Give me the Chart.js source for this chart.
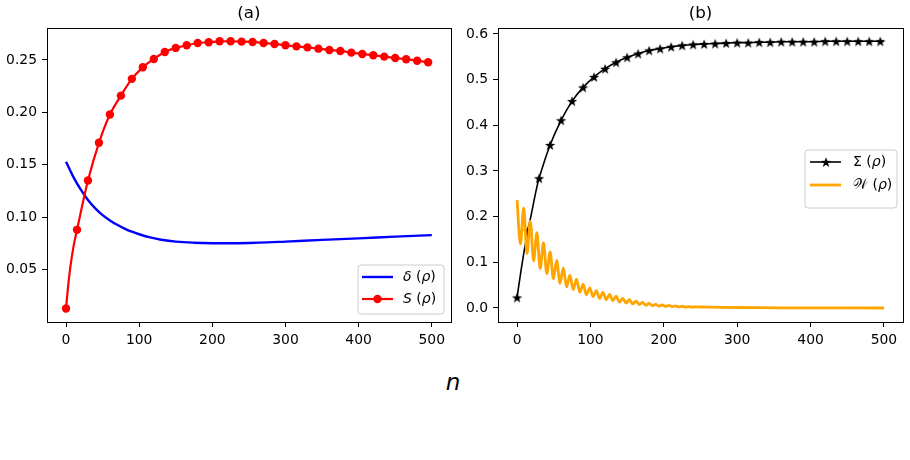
<!DOCTYPE html>
<html><head><meta charset="utf-8">
<script src="https://cdn.jsdelivr.net/npm/chart.js@4.4.1/dist/chart.umd.min.js"></script>
<style>
html,body{margin:0;padding:0;background:#fff;}
#wrap{position:relative;width:910px;height:460px;overflow:hidden;background:#fff;}
canvas{position:absolute;top:0;}
#cA{left:0;} #cB{left:455px;}
#xlab{position:absolute;left:0;width:906px;top:371px;text-align:center;font:italic 23px "DejaVu Sans";line-height:23px;color:#000;}
</style></head><body>
<div id="wrap">
<canvas id="cA" width="455" height="345" style="width:455px;height:345px"></canvas>
<canvas id="cB" width="455" height="345" style="width:455px;height:345px"></canvas>
<div id="xlab">n</div>
</div>
<script>
// ---------- data ----------
const xTicks = [0, 100, 200, 300, 400, 500];
const yTicksA = [0.05, 0.10, 0.15, 0.20, 0.25];
const yTicksB = [0.0, 0.1, 0.2, 0.3, 0.4, 0.5, 0.6];

// delta(rho)
const deltaN = [0,10,20,30,40,50,60,70,80,90,100,115,130,150,175,200,225,250,275,300,350,400,450,500];
const deltaV = [.153,.1385,.1265,.1165,.1085,.102,.097,.0928,.0892,.0862,.0838,.0808,.0786,.0768,.0757,.0752,.0752,.0755,.076,.0768,.0784,.0799,.0815,.083];

// S(rho)
const sN = [0,3,6,10,15,30,45,60,75,90,105,120,135,150,165,180,195,210,225,240,255,270,285,300,315,330,345,360,375,390,405,420,435,450,465,480,495,500];
const sV = [.013,.035,.053,.071,.088,.135,.171,.198,.216,.232,.243,.251,.2576,.2615,.264,.2662,.2669,.2678,.2678,.2675,.2672,.2662,.2653,.264,.263,.262,.2608,.2595,.2586,.257,.2557,.2545,.2532,.2519,.2507,.2493,.2478,.2475];

// Sigma(rho)
const sigN = [0,5,10,15,20,25,30,45,60,75,90,105,120,135,150,165,180,195,210,225,240,255,270,285,300,315,330,345,360,375,390,405,420,435,450,465,480,495,500];
const sigV = [.023,.078,.128,.170,.210,.250,.284,.357,.411,.453,.483,.506,.524,.538,.549,.557,.564,.568,.572,.575,.577,.578,.579,.580,.581,.581,.582,.582,.583,.583,.583,.583,.584,.584,.584,.584,.584,.584,.584];

// W(rho) (oscillating, peaks and troughs)
const wN = [0,4.5,9,13.5,18,22.5,27,31.5,36,40.5,
            45,49.5,54,58.5,63,67.5,72,76.5,81,85.5,
            90,94.5,99,103.5,108,112.5,117,121.5,126,130.5,
            135,139.5,144,148.5,153,157.5,162,166.5,171,175.5,
            180,184.5,189,193.5,198,202.5,207,211.5,216,220.5,
            225,229.5,234,238.5,243,
            260,280,300,330,360,400,450,500];
const wV = [.236,.140,.219,.119,.190,.103,.165,.086,.143,.075,
            .123,.064,.104,.054,.088,.046,.072,.040,.063,.034,
            .052,.029,.044,.025,.038,.021,.034,.018,.030,.016,
            .026,.013,.021,.011,.018,.009,.015,.0075,.012,.006,
            .010,.005,.008,.004,.0065,.0035,.0055,.003,.0045,.0025,
            .0038,.002,.003,.0018,.0025,
            .0019,.0014,.001,.0006,.0004,.0002,.0001,0];

const markStep = 15;
// ---------------------------------------------------

const pts = (xs, ys) => xs.map((x, i) => ({x: x, y: ys[i]}));
const isMark = c => c.raw && (c.raw.x % markStep === 0) && c.raw.x <= 495;

const starImg = (() => {
  const c = document.createElement('canvas'); const s = 12; c.width = s; c.height = s;
  const g = c.getContext('2d'); g.beginPath();
  for (let i = 0; i < 10; i++) {
    const r = i % 2 ? 2.2 : 5.4; const a = -Math.PI / 2 + i * Math.PI / 5;
    g.lineTo(s / 2 + r * Math.cos(a), s / 2 + 0.6 + r * Math.sin(a));
  }
  g.closePath(); g.fillStyle = '#000'; g.fill(); return c;
})();

Chart.defaults.font.family = '"DejaVu Sans"';
Chart.defaults.color = '#000';

function drawSegs(ctx, x, y, segs) {
  for (const [t, st] of segs) {
    ctx.font = (st ? st + ' ' : '') + '14px "DejaVu Sans"';
    ctx.fillText(t, x, y);
    x += ctx.measureText(t).width;
  }
}

const deco = {
  id: 'deco',
  afterDraw(chart, args, o) {
    const ctx = chart.ctx, a = chart.chartArea;
    ctx.save();
    // frame
    ctx.strokeStyle = '#000'; ctx.lineWidth = 1;
    ctx.strokeRect(Math.round(a.left) + 0.5, Math.round(a.top) + 0.5, Math.round(a.right - a.left), Math.round(a.bottom - a.top));
    // title
    ctx.fillStyle = '#000'; ctx.font = '16.7px "DejaVu Sans"';
    ctx.textAlign = 'center'; ctx.textBaseline = 'middle';
    ctx.fillText(o.title, (a.left + a.right) / 2, 14);
    // legend
    const L = o.legend;
    ctx.beginPath();
    if (ctx.roundRect) ctx.roundRect(L.x0, L.y0, L.x1 - L.x0, L.y1 - L.y0, 3); else ctx.rect(L.x0, L.y0, L.x1 - L.x0, L.y1 - L.y0);
    ctx.fillStyle = 'rgba(255,255,255,0.8)'; ctx.fill();
    ctx.strokeStyle = '#cccccc'; ctx.lineWidth = 1; ctx.stroke();
    ctx.textAlign = 'left'; ctx.textBaseline = 'middle';
    for (const e of L.entries) {
      const ds = chart.data.datasets[e.ds];
      ctx.beginPath(); ctx.moveTo(L.lx0, e.y); ctx.lineTo(L.lx1, e.y);
      ctx.strokeStyle = ds.borderColor; ctx.lineWidth = ds.borderWidth; ctx.stroke();
      const cx = (L.lx0 + L.lx1) / 2;
      if (e.marker === 'circle') {
        ctx.beginPath(); ctx.arc(cx, e.y, 4.2, 0, Math.PI * 2); ctx.fillStyle = ds.borderColor; ctx.fill();
      } else if (e.marker === 'star') {
        ctx.drawImage(starImg, Math.round(cx - starImg.width / 2), Math.round(e.y - starImg.height / 2));
      }
      ctx.fillStyle = '#000';
      drawSegs(ctx, L.tx, e.y, e.text);
    }
    ctx.restore();
  }
};

function makeOptions(yMin, yMax, yTicks, dec, yW, padR, title, legend) {
  return {
    responsive: false, animation: false, events: [],
    layout: {padding: {left: 0, right: padR, top: 28, bottom: 0}},
    plugins: {legend: {display: false}, tooltip: {enabled: false}, deco: {title: title, legend: legend}},
    scales: {
      x: {
        type: 'linear', min: -26, max: 526,
        afterBuildTicks: s => { s.ticks = xTicks.map(v => ({value: v})); },
        afterFit: s => { s.height = 23; },
        grid: {display: true, drawOnChartArea: false, drawTicks: true, tickLength: 5, tickColor: '#000', tickWidth: 1},
        border: {display: false},
        ticks: {color: '#000', font: {size: 13.9}, padding: 5, maxRotation: 0, autoSkip: false, callback: v => String(v)}
      },
      y: {
        type: 'linear', min: yMin, max: yMax,
        afterBuildTicks: s => { s.ticks = yTicks.map(v => ({value: v})); },
        afterFit: s => { s.width = yW; },
        grid: {display: true, drawOnChartArea: false, drawTicks: true, tickLength: 5, tickColor: '#000', tickWidth: 1},
        border: {display: false},
        ticks: {color: '#000', font: {size: 13.9}, padding: 5, autoSkip: false, callback: v => Number(v).toFixed(dec)}
      }
    }
  };
}

new Chart(document.getElementById('cA'), {
  type: 'line',
  data: {datasets: [
    {label: 'δ (ρ)', data: pts(deltaN, deltaV), borderColor: '#0000ff', borderWidth: 2.4, pointRadius: 0,
     tension: 0.4, fill: false, order: 1},
    {label: 'S (ρ)', data: pts(sN, sV), borderColor: '#ff0000', backgroundColor: '#ff0000', borderWidth: 2.2,
     pointStyle: 'circle', pointRadius: c => isMark(c) ? 4.2 : 0, pointBorderWidth: 0,
     pointBackgroundColor: '#ff0000', tension: 0.3, fill: false, order: 0}
  ]},
  options: makeOptions(0.0001, 0.2805, yTicksA, 2, 47, 4, '(a)', {
    x0: 358, y0: 265, x1: 444, y1: 314, lx0: 362, lx1: 393, tx: 403,
    entries: [
      {ds: 0, y: 277, marker: null, text: [['δ', 'italic'], [' (', ''], ['ρ', 'italic'], [')', '']]},
      {ds: 1, y: 299, marker: 'circle', text: [['S', 'italic'], [' (', ''], ['ρ', 'italic'], [')', '']]}
    ]
  }),
  plugins: [deco]
});

new Chart(document.getElementById('cB'), {
  type: 'line',
  data: {datasets: [
    {label: 'Σ (ρ)', data: pts(sigN, sigV), borderColor: '#000000', borderWidth: 1.6,
     pointStyle: starImg, pointRadius: c => isMark(c) ? 4 : 0,
     tension: 0.3, fill: false, order: 1},
    {label: 'W (ρ)', data: pts(wN, wV), borderColor: '#ffa500', borderWidth: 2.8, pointRadius: 0,
     cubicInterpolationMode: 'monotone', fill: false, order: 0}
  ]},
  options: makeOptions(-0.0307, 0.6131, yTicksB, 1, 43, 7, '(b)', {
    x0: 350, y0: 150, x1: 442, y1: 208, lx0: 355, lx1: 386, tx: 398,
    entries: [
      {ds: 0, y: 162, marker: 'star', text: [['Σ', ''], [' (', ''], ['ρ', 'italic'], [')', '']]},
      {ds: 1, y: 185, marker: null, text: [['𝒲', ''], [' (', ''], ['ρ', 'italic'], [')', '']]}
    ]
  }),
  plugins: [deco]
});
</script>
</body></html>
